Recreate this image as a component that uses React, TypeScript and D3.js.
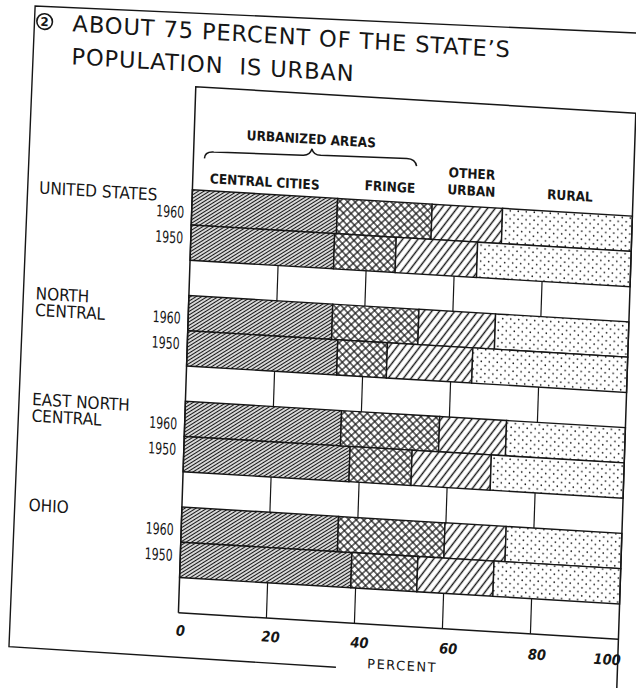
import React, { useEffect, useRef } from 'react'
import * as d3 from 'd3'

// regions shown, top to bottom
const regions = ['UNITED STATES', 'NORTH CENTRAL', 'EAST NORTH CENTRAL', 'OHIO']
const regionLines = [['UNITED STATES'], ['NORTH', 'CENTRAL'], ['EAST NORTH', 'CENTRAL'], ['OHIO']]
const years = ['1960', '1950']
const categories = ['CENTRAL CITIES', 'FRINGE', 'OTHER URBAN', 'RURAL']

// percent of population; order: US 60, US 50, NC 60, NC 50, ENC 60, ENC 50, OH 60, OH 50
const centralCities = [33.0, 32.6, 32.7, 34.1, 35.5, 37.7, 35.6, 38.9]
const fringe = [21.5, 14.0, 19.6, 11.3, 22.3, 14.1, 24.2, 15.0]
const otherUrban = [16.0, 18.5, 17.4, 19.4, 15.2, 18.0, 13.9, 17.3]
const rural = [29.5, 34.9, 30.3, 35.2, 27.0, 30.2, 26.3, 28.8]

const ticks = [0, 20, 40, 60, 80, 100]
const gridTicks = [20, 40, 60, 80]

const W = 636
const H = 688
const INK = '#161616'

const App = () => {
    const svgRef = useRef<SVGSVGElement>(null)

    useEffect(() => {
        const root = d3.select(svgRef.current)
        root.selectAll('*').remove()

        const rows = regions.flatMap((r, i) => years.map((yr, j) => {
            const k = i * 2 + j
            return {
                region: r, year: yr,
                'CENTRAL CITIES': centralCities[k],
                'FRINGE': fringe[k],
                'OTHER URBAN': otherUrban[k],
                'RURAL': rural[k],
            }
        }))
        const series = d3.stack<any>().keys(categories)(rows)

        const left = 196, right = 636, top = 89, barTop = 192, bottom = 615
        const x = d3.scaleLinear().domain([0, 100]).range([left, right])
        const yRegion = d3.scaleBand().domain(regions).range([barTop, bottom])
        const ySlot = d3.scaleBand().domain([...years, 'gap']).range([0, yRegion.bandwidth()])

        // patterns
        const defs = root.append('defs')
        const hatch = (id: string, gap: number, angle: number, sw: number, cross = false) => {
            const p = defs.append('pattern').attr('id', id).attr('patternUnits', 'userSpaceOnUse')
                .attr('width', gap).attr('height', gap).attr('patternTransform', `rotate(${angle})`)
            p.append('rect').attr('width', gap).attr('height', gap).attr('fill', '#fff')
            p.append('line').attr('x1', gap / 2).attr('x2', gap / 2).attr('y1', -1).attr('y2', gap + 1)
                .attr('stroke', INK).attr('stroke-width', sw)
            if (cross) p.append('line').attr('y1', gap / 2).attr('y2', gap / 2).attr('x1', -1).attr('x2', gap + 1)
                .attr('stroke', INK).attr('stroke-width', sw)
        }
        hatch('p0', 2.9, 55, 1.3)
        hatch('p1', 5.4, 45, 1.2, true)
        hatch('p2', 6, 35, 1.4)
        const dots = defs.append('pattern').attr('id', 'p3').attr('patternUnits', 'userSpaceOnUse')
            .attr('width', 8).attr('height', 8)
        dots.append('rect').attr('width', 8).attr('height', 8).attr('fill', '#fff')
        dots.append('circle').attr('cx', 2).attr('cy', 2).attr('r', 0.8).attr('fill', INK)
        dots.append('circle').attr('cx', 6).attr('cy', 6).attr('r', 0.8).attr('fill', INK)

        root.append('rect').attr('width', W).attr('height', H).attr('fill', '#fff')

        // the scan is skewed a little, the whole sheet follows it
        const g = root.append('g').attr('transform', 'matrix(1,0.06,-0.033,1,2.72,-14.01)')

        // outer sheet frame
        g.append('path').attr('d', 'M660,8.6 L33,18 L28,659 L355,660')
            .attr('fill', 'none').attr('stroke', INK).attr('stroke-width', 1.4)

        // title
        g.append('circle').attr('cx', 43).attr('cy', 33).attr('r', 7.8)
            .attr('fill', 'none').attr('stroke', INK).attr('stroke-width', 1.6)
        g.append('text').attr('x', 43).attr('y', 37.4).attr('text-anchor', 'middle')
            .attr('font-family', 'DejaVu Sans').attr('font-weight', 'bold')
            .attr('font-size', 12).attr('fill', INK).text('2')
        const title = ['ABOUT 75 PERCENT OF THE STATE\u2019S', 'POPULATION\u00a0 IS URBAN']
        g.selectAll('text.title').data(title).join('text').attr('class', 'title')
            .attr('x', 71).attr('y', (_, i) => 41 + i * 33)
            .attr('font-family', "'DejaVu Sans', sans-serif")
            .attr('font-size', 22.5).attr('letter-spacing', 0.9).attr('fill', INK)
            .text(d => d)

        // bars
        series.forEach((s, si) => {
            g.append('g').selectAll('rect').data(s).join('rect')
                .attr('x', d => x(d[0]))
                .attr('width', d => x(d[1]) - x(d[0]))
                .attr('y', d => (yRegion(d.data.region) ?? 0) + (ySlot(d.data.year) ?? 0))
                .attr('height', ySlot.bandwidth())
                .attr('fill', `url(#p${si})`)
                .attr('stroke', INK).attr('stroke-width', 1.4)
        })

        // grid in blank rows
        regions.forEach(r => {
            const y0 = (yRegion(r) ?? 0) + (ySlot('gap') ?? 0)
            g.append('g').selectAll('line').data(gridTicks).join('line')
                .attr('x1', d => x(d)).attr('x2', d => x(d))
                .attr('y1', y0).attr('y2', y0 + ySlot.bandwidth())
                .attr('stroke', INK).attr('stroke-width', 1.2)
        })

        // plot frame
        g.append('path').attr('d', `M${left},${bottom} L${left},${top} L${right},${top} L${right},700`)
            .attr('fill', 'none').attr('stroke', INK).attr('stroke-width', 1.5)
        g.append('line').attr('x1', left).attr('x2', right).attr('y1', bottom).attr('y2', bottom)
            .attr('stroke', INK).attr('stroke-width', 1.5)

        // column heads
        const head = g.append('g').attr('font-family', "'DejaVu Sans Condensed', 'DejaVu Sans', sans-serif")
            .attr('font-weight', 'bold').attr('font-size', 13.5).attr('fill', INK).attr('text-anchor', 'middle')
        head.append('text').attr('x', 313).attr('y', 139).text('URBANIZED AREAS')
        head.append('text').attr('x', 268).attr('y', 184.5).text(categories[0])
        head.append('text').attr('x', 393).attr('y', 182).text(categories[1])
        head.append('text').attr('x', 474.5).attr('y', 164).text(categories[2].split(' ')[0])
        head.append('text').attr('x', 474.5).attr('y', 181).text(categories[2].split(' ')[1])
        head.append('text').attr('x', 573).attr('y', 180).text(categories[3])
        g.append('path')
            .attr('d', 'M207,160 C207,155 210,153 216,153 L305,151 C310,151 313,148 314,144 C315,148 318,150 323,150 L409,148 C414,148 418,150 419,155')
            .attr('fill', 'none').attr('stroke', INK).attr('stroke-width', 1.5)

        // region and year labels
        regions.forEach((r, i) => {
            const y0 = yRegion(r) ?? 0
            g.append('g').selectAll('text').data(regionLines[i]).join('text')
                .attr('x', 43).attr('y', (_, li) => y0 + 13 + li * 16.5)
                .attr('font-family', "'DejaVu Sans Condensed', 'DejaVu Sans', sans-serif")
                .attr('font-size', 17).attr('fill', INK).text(d => d)
            const mid = y0 + (ySlot('1950') ?? 0)
            g.append('g').selectAll('text').data(years).join('text')
                .attr('x', x(0) - 7.5).attr('y', (_, yi) => yi === 0 ? mid - 6.5 : mid + 19)
                .attr('text-anchor', 'end')
                .attr('font-family', "'DejaVu Sans Condensed', 'DejaVu Sans', sans-serif")
                .attr('font-size', 16).attr('textLength', 28).attr('lengthAdjust', 'spacingAndGlyphs')
                .attr('fill', INK).text(d => d)
        })

        // percent axis labels (the sheet sags a bit more towards the bottom right)
        g.append('g').selectAll('text').data(ticks).join('text')
            .attr('x', (d, i) => i === 0 ? x(d) - 2 : i === ticks.length - 1 ? x(d) + 3 : x(d) + 4 + d * 0.04)
            .attr('y', d => bottom + 23 + d * 0.03)
            .attr('text-anchor', (_, i) => i === 0 ? 'start' : i === ticks.length - 1 ? 'end' : 'middle')
            .attr('font-family', "'DejaVu Sans Condensed', 'DejaVu Sans', sans-serif")
            .attr('font-style', 'italic').attr('font-weight', 'bold').attr('font-size', 14.5).attr('fill', INK)
            .text(d => d)
        g.append('text').attr('x', x(50) + 5).attr('y', bottom + 44).attr('text-anchor', 'middle')
            .attr('font-family', "'DejaVu Sans', sans-serif").attr('font-size', 13)
            .attr('letter-spacing', 1.5).attr('fill', INK).text('PERCENT')
    }, [])

    return (
        <svg ref={svgRef} width={W} height={H}
            style={{ position: 'absolute', left: 0, top: 0, display: 'block' }} />
    )
}

export default App
